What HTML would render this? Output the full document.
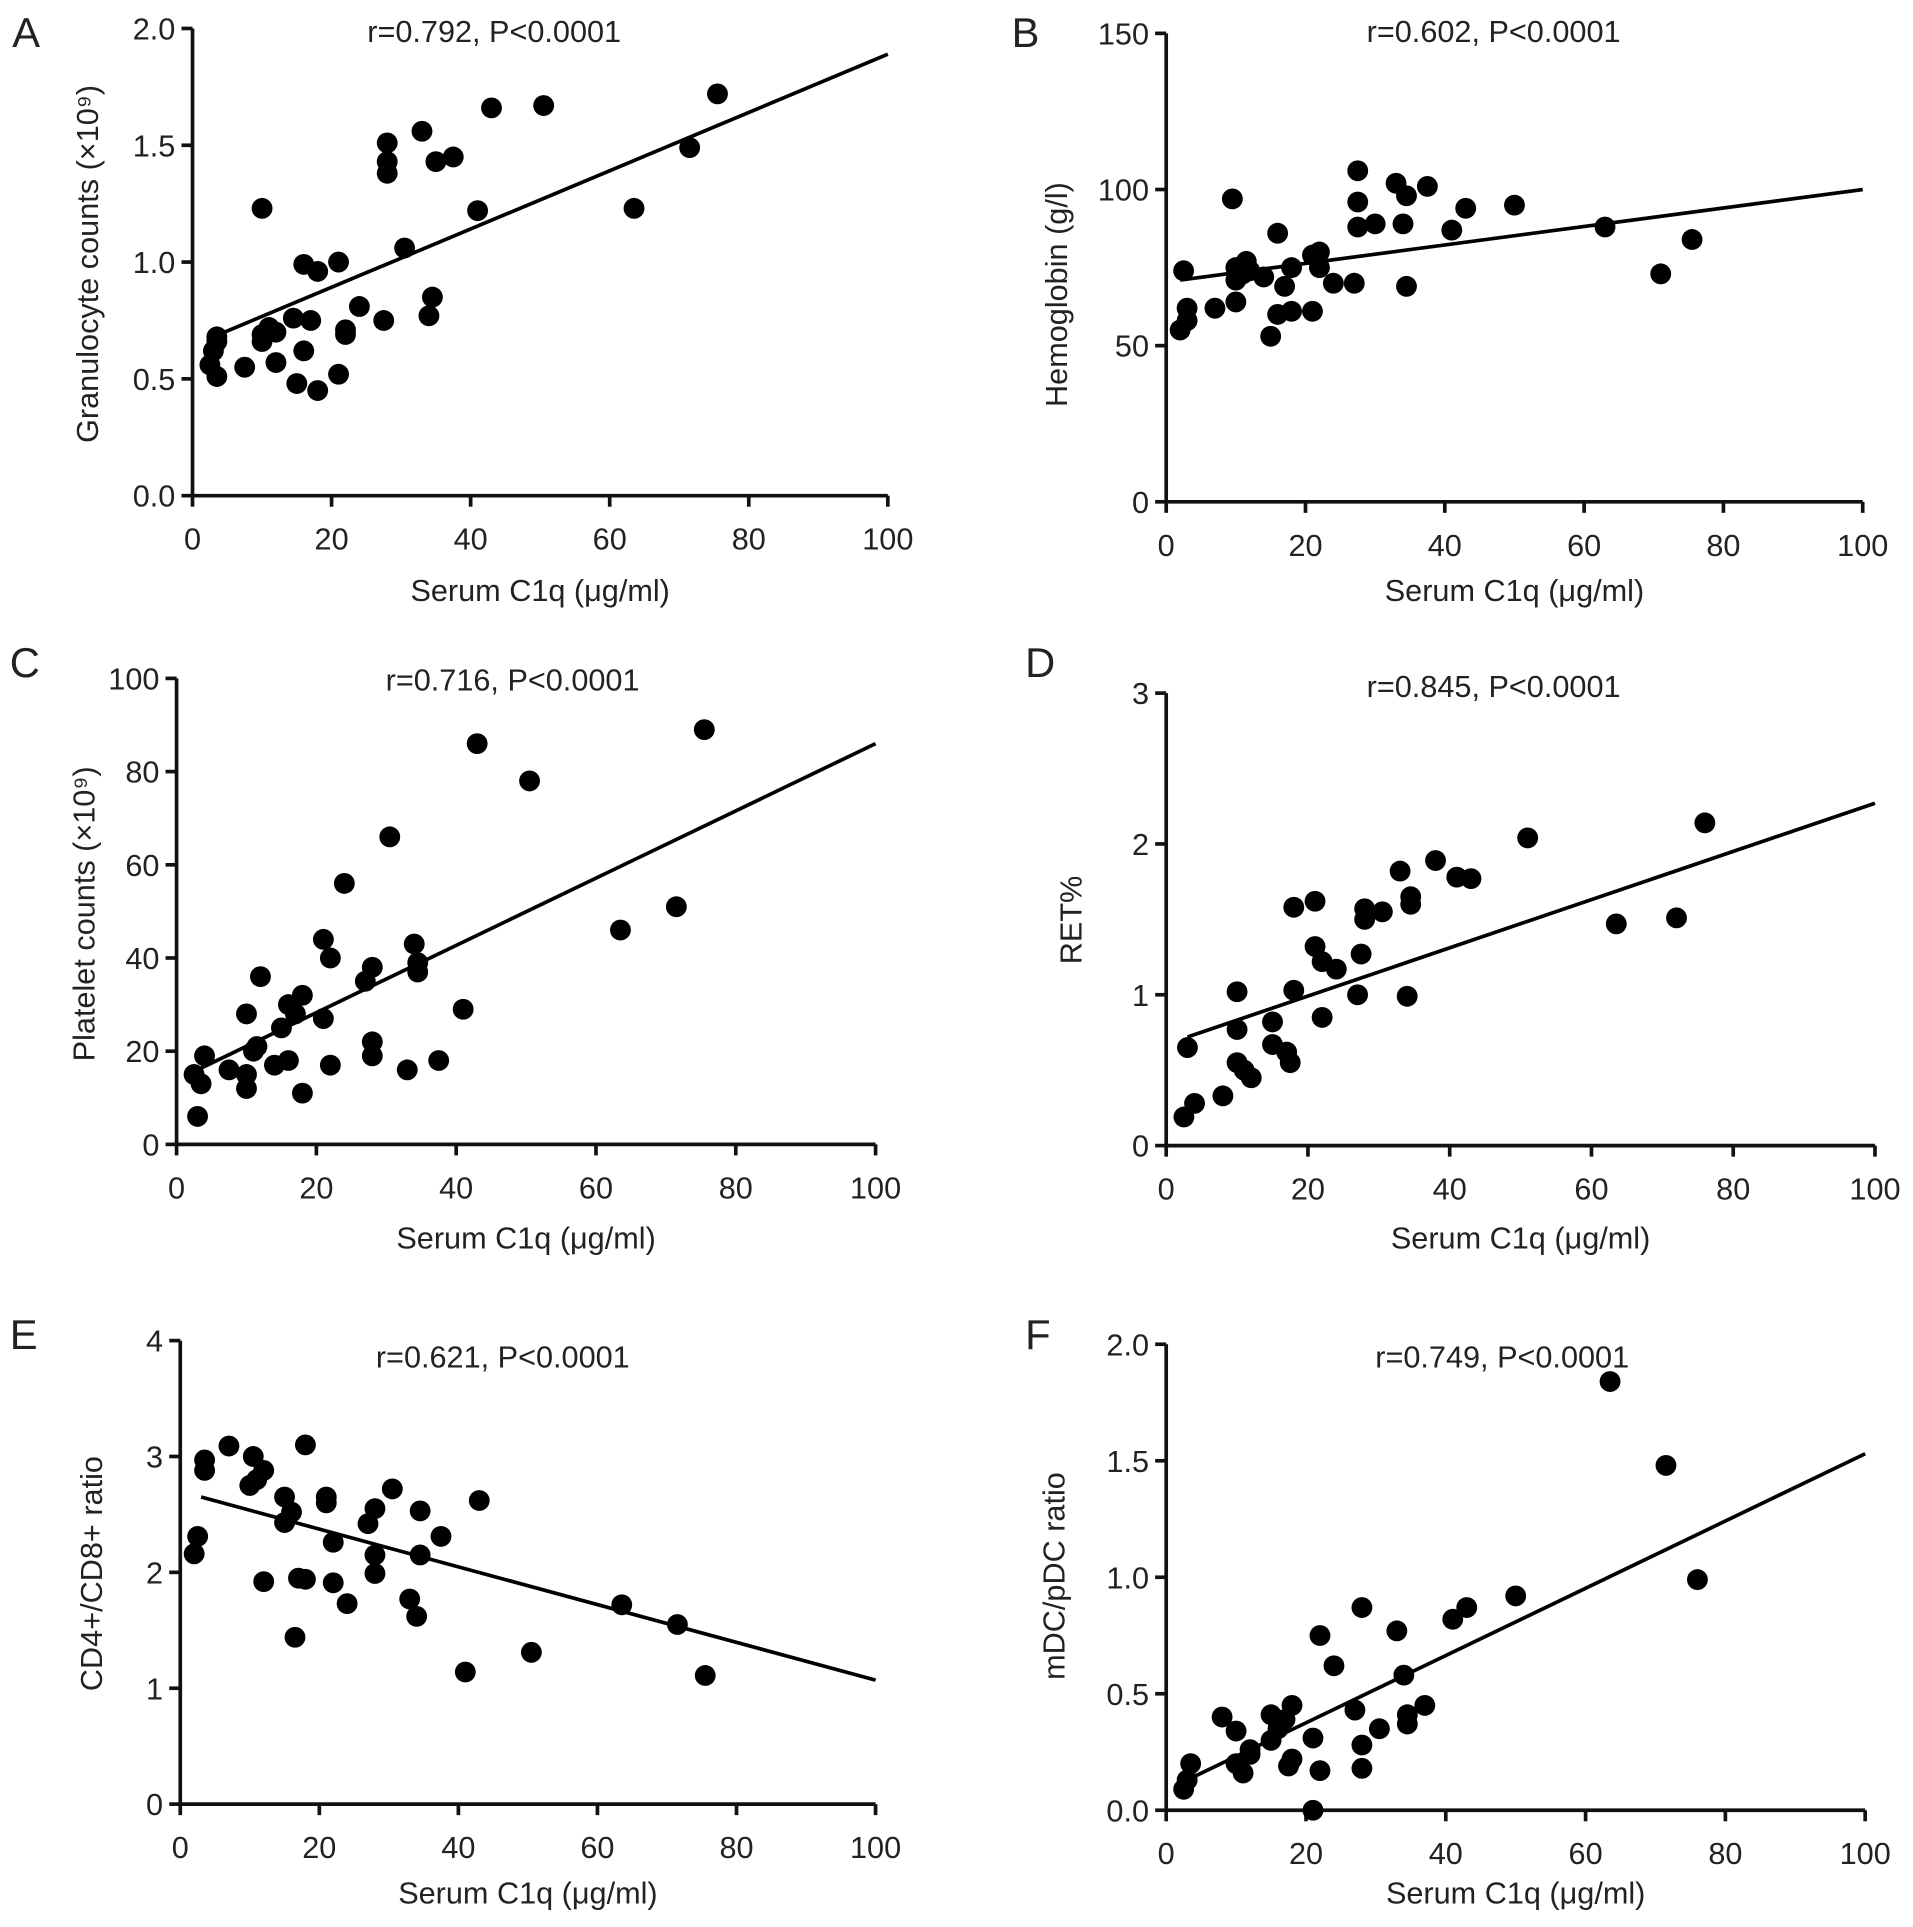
<!DOCTYPE html>
<html><head><meta charset="utf-8"><style>
html,body{margin:0;padding:0;background:#fff}
svg{display:block}
text{font-family:"Liberation Sans",sans-serif;fill:#222}
</style></head><body>
<svg id="fig" width="1913" height="1927" viewBox="0 0 1560 1571" xmlns="http://www.w3.org/2000/svg"></svg>
<script>
const aX=[2.5,3,3.5,3.5,3.5,7.5,10,10,10,11,12,12,14.5,15,16,16,17,18,18,21,21,22,22,24,27.5,28,28,28,30.5,33,34,34.5,35,37.5,41,43,50.5,63.5,71.5,75.5];
const aY=[0.56,0.62,0.66,0.68,0.51,0.55,1.23,0.69,0.66,0.72,0.57,0.7,0.76,0.48,0.62,0.99,0.75,0.96,0.45,1.0,0.52,0.69,0.71,0.81,0.75,1.51,1.43,1.38,1.06,1.56,0.77,0.85,1.43,1.45,1.22,1.66,1.67,1.23,1.49,1.72];
const bX=[2,2.5,3,3,7,9.5,10,10,10,11,11.5,12,14,15,16,16,17,18,18,21,21,22,22,24,27,27.5,27.5,27.5,30,33,34,34.5,34.5,37.5,41,43,50,63,71,75.5];
const bY=[55,74,58,62,62,97,75,71,64,73,77,74,72,53,86,60,69,61,75,61,79,80,75,70,70,106,96,88,89,102,89,98,69,101,87,94,95,88,73,84];
const cX=[2.5,3,3.5,4,7.5,10,10,10,11,11.5,12,14,15,16,16,17,18,18,21,21,22,22,24,27,28,28,28,30.5,33,34,34.5,34.5,37.5,41,43,50.5,63.5,71.5,75.5];
const cY=[15,6,13,19,16,28,15,12,20,21,36,17,25,18,30,28,32,11,44,27,40,17,56,35,38,22,19,66,16,43,37,39,18,29,86,78,46,51,89];
const dX=[2.5,3,4,8,10,10,10,11,12,15,15,17,17.5,18,18,21,21,22,22,24,27,27.5,28,28,30.5,33,34,34.5,34.5,38,41,43,51,63.5,72,76];
const dY=[0.19,0.65,0.28,0.33,1.02,0.77,0.55,0.5,0.45,0.82,0.67,0.62,0.55,1.58,1.03,1.62,1.32,1.22,0.85,1.17,1.0,1.27,1.5,1.57,1.55,1.82,0.99,1.6,1.65,1.89,1.78,1.77,2.04,1.47,1.51,2.14];
const eX=[2,2.5,3.5,3.5,7,10,10.5,11,12,12,15,15,16,16.5,17,18,18,21,21,22,22,24,27,28,28,28,30.5,33,34,34.5,34.5,37.5,41,43,50.5,63.5,71.5,75.5];
const eY=[2.16,2.31,2.97,2.88,3.09,2.75,3.0,2.8,2.88,1.92,2.43,2.65,2.52,1.44,1.95,3.1,1.94,2.6,2.65,1.91,2.26,1.73,2.42,2.15,1.99,2.55,2.72,1.77,1.62,2.53,2.15,2.31,1.14,2.62,1.31,1.72,1.55,1.11];
const fX=[2.5,3,3.5,8,10,10,11,12,12,15,15,16,17,17.5,18,18,21,21,22,22,24,27,28,28,28,30.5,33,34,34.5,34.5,37,41,43,50,63.5,71.5,76];
const fY=[0.09,0.13,0.2,0.4,0.34,0.2,0.16,0.24,0.26,0.41,0.3,0.35,0.39,0.19,0.22,0.45,0.31,0.0,0.75,0.17,0.62,0.43,0.87,0.28,0.18,0.35,0.77,0.58,0.41,0.37,0.45,0.82,0.87,0.92,1.84,1.48,0.99];
const xTicks=[0,20,40,60,80,100];
const aTicks=["0.0","0.5","1.0","1.5","2.0"];
const bTicks=["0","50","100","150"];
const cTicks=["0","20","40","60","80","100"];
const dTicks=["0","1","2","3"];
const eTicks=["0","1","2","3","4"];
const fTicks=["0.0","0.5","1.0","1.5","2.0"];
const aFit=[3,0.68,100,1.89];
const bFit=[2,71,100,100];
const cFit=[3,16,100,86];
const dFit=[3,0.72,100,2.27];
const eFit=[3,2.65,100,1.07];
const fFit=[3,0.13,100,1.53];

const NS="http://www.w3.org/2000/svg";
const svg=document.getElementById('fig');
function mk(tag,attrs,parent){const e=document.createElementNS(NS,tag);for(const k in attrs)e.setAttribute(k,attrs[k]);(parent||svg).appendChild(e);return e;}

const panels=[
 {id:'a',letter:'A',lx:10,ly:38,x0:157,x1:724,y0:404,y1:23,ymax:2,yt:aTicks,xs:aX,ys:aY,fit:aFit,title:'r=0.792, P<0.0001',tx:403,ty:34,ylab:'Granulocyte counts (×10⁹)',ylx:80,yly:215,xly:490},
 {id:'b',letter:'B',lx:825,ly:38,x0:951,x1:1519,y0:409,y1:27,ymax:150,yt:bTicks,xs:bX,ys:bY,fit:bFit,title:'r=0.602, P<0.0001',tx:1218,ty:34,ylab:'Hemoglobin (g/l)',ylx:870,yly:240,xly:490},
 {id:'c',letter:'C',lx:8,ly:552,x0:144,x1:714,y0:933,y1:553,ymax:100,yt:cTicks,xs:cX,ys:cY,fit:cFit,title:'r=0.716, P<0.0001',tx:418,ty:563,ylab:'Platelet counts (×10⁹)',ylx:77,yly:745,xly:1018},
 {id:'d',letter:'D',lx:836,ly:552,x0:951,x1:1529,y0:934,y1:565,ymax:3,yt:dTicks,xs:dX,ys:dY,fit:dFit,title:'r=0.845, P<0.0001',tx:1218,ty:568,ylab:'RET%',ylx:882,yly:750,xly:1018},
 {id:'e',letter:'E',lx:8,ly:1100,x0:147,x1:714,y0:1471,y1:1093,ymax:4,yt:eTicks,xs:eX,ys:eY,fit:eFit,title:'r=0.621, P<0.0001',tx:410,ty:1115,ylab:'CD4+/CD8+ ratio',ylx:83,yly:1283,xly:1552},
 {id:'f',letter:'F',lx:836,ly:1100,x0:951,x1:1521,y0:1476,y1:1096,ymax:2,yt:fTicks,xs:fX,ys:fY,fit:fFit,title:'r=0.749, P<0.0001',tx:1225,ty:1115,ylab:'mDC/pDC ratio',ylx:868,yly:1285,xly:1552}
];

panels.forEach(p=>{
 const g=mk('g',{});
 
 
 const sx=v=>p.x0+(p.x1-p.x0)*v/100;
 const sy=v=>p.y0-(p.y0-p.y1)*v/p.ymax;
 const L=mk('text',{x:p.lx,y:p.ly,'font-size':34},g);L.textContent=p.letter;
 
 
 const ax=mk('path',{d:`M${p.x0} ${p.y1}V${p.y0}H${p.x1}`,stroke:'#111','stroke-width':3,fill:'none'},g);
 
 
 xTicks.forEach(t=>{
  mk('line',{x1:sx(t),x2:sx(t),y1:p.y0,y2:p.y0+9,stroke:'#111','stroke-width':3},g);
  const tl=mk('text',{x:sx(t),y:p.y0+44,'font-size':25,'text-anchor':'middle'},g);tl.textContent=t;
  
  
 });
 p.yt.forEach((t,i)=>{
  const v=p.ymax*i/(p.yt.length-1);
  mk('line',{x1:p.x0-9,x2:p.x0,y1:sy(v),y2:sy(v),stroke:'#111','stroke-width':3},g);
  const tl=mk('text',{x:p.x0-14,y:sy(v)+9,'font-size':25,'text-anchor':'end'},g);tl.textContent=t;
  
  
 });
 const xl=mk('text',{x:(p.x0+p.x1)/2,y:p.xly,'font-size':25,'text-anchor':'middle'},g);xl.textContent='Serum C1q (μg/ml)';
 
 
 const yl=mk('text',{x:0,y:0,'font-size':25,'text-anchor':'middle',transform:`translate(${p.ylx},${p.yly}) rotate(-90)`},g);yl.textContent=p.ylab;
 
 
 const tt=mk('text',{x:p.tx,y:p.ty,'font-size':25,'text-anchor':'middle'},g);tt.textContent=p.title;
 
 
 p.xs.forEach((x,i)=>{
  const c=mk('circle',{cx:sx(x),cy:sy(p.ys[i]),r:8.5,fill:'#000'},g);
  
  
 });
 const f=p.fit;
 const ln=mk('line',{x1:sx(f[0]),y1:sy(f[1]),x2:sx(f[2]),y2:sy(f[3]),stroke:'#000','stroke-width':3},g);
 
 
});
</script>
</body></html>
